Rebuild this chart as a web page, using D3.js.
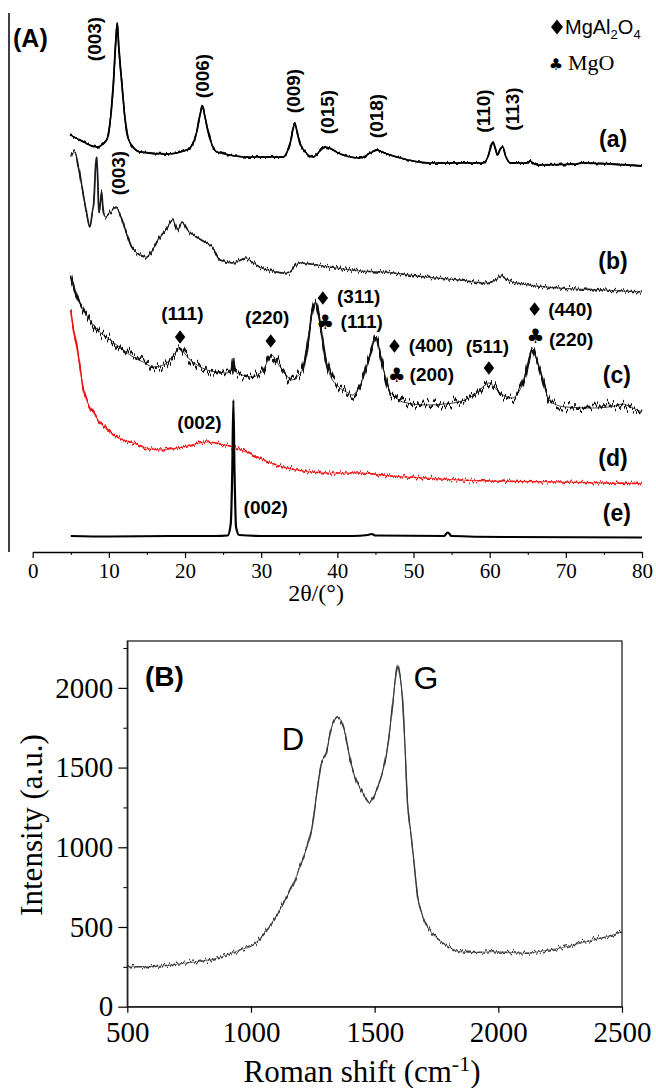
<!DOCTYPE html>
<html>
<head>
<meta charset="utf-8">
<script src="https://cdn.jsdelivr.net/npm/d3@7"></script>
<style>
  body { margin: 0; background: #fff; }
  svg { display: block; }
</style>
</head>
<body>
<div id="chart"></div>
<script>
// ---------- data (A): XRD, 2theta in degrees vs intensity (a.u., stacked) ----------
var traceA = [[4.9,417],[6.2,412],[8.4,405],[9.7,412],[10.3,440],[10.6,469],[10.9,510],[11.1,529],[11.3,505],[11.7,469],[12.1,435],[12.6,412],[14.1,400],[17.6,398],[20.2,402],[21.0,408],[21.5,419],[22.0,438],[22.3,446],[22.6,436],[23.1,419],[23.6,406],[24.2,400],[28.5,395],[32.9,395],[33.5,402],[33.8,409],[34.2,424],[34.4,429],[34.7,421],[35.1,409],[35.8,400],[36.8,395],[37.6,400],[38.4,405],[39.2,403],[40.4,398],[43.0,394],[44.3,399],[45.2,402],[46.2,399],[47.8,395],[52.2,389],[59.2,389],[59.8,396],[60.4,410],[60.8,402],[61.0,397],[61.4,403],[61.7,405],[62.1,396],[62.7,389],[65.0,389],[65.3,391],[65.7,389],[66.2,387],[71.4,388],[72.0,389],[80,386]];
var traceB = [[5.0,395],[5.55,400],[6.0,385],[6.6,359],[7.1,338],[7.5,325],[7.8,338],[8.05,352],[8.25,385],[8.4,395],[8.55,370],[8.7,339],[8.9,350],[9.05,360],[9.2,345],[9.5,335],[10.2,340],[11.0,344],[11.6,335],[12.3,319],[13.0,305],[13.7,299],[15.0,295],[15.8,303],[16.7,315],[17.5,322],[18.4,332],[19.0,322],[19.6,330],[20.3,322],[21.1,317],[22.8,309],[23.6,305],[24.6,292],[26.3,289],[27.3,292],[27.9,294],[28.8,290],[29.8,285],[31.5,281],[32.9,279],[33.8,280],[34.5,287],[35.1,289],[36.5,288],[39.0,285],[42.9,281],[46.0,280],[51.6,275],[56.0,272],[59.5,269],[60.8,272],[61.5,276],[62.2,273],[63.0,270],[69.1,264],[75.0,262],[80,260]];
var traceC = [[5.0,277],[5.4,265],[5.8,255],[6.6,243],[7.5,232],[8.8,220],[10.2,212],[11.7,203],[13.2,195],[14.5,190],[15.8,185],[16.8,186],[17.6,189],[18.6,198],[19.35,204],[20.0,198],[20.7,192],[21.8,186],[22.9,182],[24.2,180],[25.5,179],[26.1,183],[26.3,194],[26.5,182],[26.8,179],[28.0,176],[28.9,175],[29.7,178],[30.3,182],[30.9,192],[31.4,197],[31.9,192],[32.5,185],[33.3,177],[34.0,172],[34.8,176],[35.4,182],[35.8,196],[36.2,215],[36.7,240],[37.1,250],[37.5,238],[38.0,215],[38.5,192],[39.0,178],[40.2,165],[41.2,160],[42.0,157],[42.7,163],[43.3,172],[43.9,186],[44.4,199],[44.8,210],[45.1,214],[45.4,206],[45.7,195],[46.2,178],[46.8,162],[47.6,155],[48.6,150],[51.6,147],[55.2,149],[57.3,154],[58.3,159],[59.1,165],[59.9,169],[60.5,166],[61.2,160],[62.0,156],[63.0,154],[63.8,160],[64.5,172],[65.1,192],[65.6,204],[66.0,196],[66.5,185],[67.2,165],[67.8,152],[68.8,147],[70.0,145],[73.5,144],[76.5,146],[77.5,148],[78.5,145],[80,140]];
var traceD = [[5.0,242],[5.3,225],[5.8,205],[6.2,185],[6.6,165],[7.2,150],[7.9,140],[8.8,130],[10.2,119],[11.6,113],[13.2,109],[15.0,104],[16.7,102],[18.2,103],[19.7,105],[21.3,108],[22.9,110],[24.6,108],[26.3,105],[28.0,100],[29.8,94],[31.3,89],[32.9,85],[35.5,81],[39.0,79],[42.9,79],[47.0,76],[51.6,74],[56.0,72],[60.4,71],[64.0,70.5],[69.1,70],[75.0,69],[80,68.5]];
var traceE = [[5.0,16],[10.0,15.5],[18.0,16],[24.0,16],[25.6,16.5],[26.0,28],[26.2,80],[26.35,152],[26.5,80],[26.7,25],[27.1,17],[30.0,16],[42.0,16],[44.0,17],[44.5,18],[45.0,16.5],[54.0,16],[54.5,19.5],[55.0,16],[62.0,15],[80,14.5]];

var ticksA = [0, 10, 20, 30, 40, 50, 60, 70, 80];
var minorA = [5, 15, 25, 35, 45, 55, 65, 75];

// vertical hkl labels of trace (a)/(b): [text, 2theta, a.u.]
var hklVertical = [["(003)",8.05,513],["(006)",22.23,476],["(009)",34.18,461],["(015)",38.65,440],["(018)",45.2,436],["(110)",59.13,441],["(113)",62.94,443],["(003)",11.2,379]];
// spinel / MgO labels of trace (c)
var hklSpinel = [["(111)",19.65,239],["(220)",30.8,234.5],["(311)",42.8,256],["(111)",43.2,231],["(400)",52.3,207],["(200)",52.4,178],["(511)",59.7,206],["(440)",70.6,243],["(220)",70.7,213]];
var diamonds = [[19.35,215],[31.25,211],[38.1,254],[47.5,206],[59.9,184],[65.9,243]];
var clubs = [[38.4,230],[47.8,177],[66.0,216]];
var graphiteLabels = [["(002)",21.9,130],["(002)",30.6,45]];
var sampleLabels = [["(a)",76.2,413],["(b)",76.2,291],["(c)",76.7,177],["(d)",76.2,94],["(e)",76.7,39]];

// ---------- data (B): Raman ----------
var raman = [[500,251],[592,251],[726,272],[861,304],[955,356],[1009,387],[1063,481],[1117,607],[1171,774],[1218,962],[1245,1109],[1265,1330],[1285,1530],[1303,1585],[1323,1736],[1338,1800],[1350,1819],[1365,1790],[1377,1736],[1395,1600],[1411,1485],[1428,1410],[1445,1360],[1462,1310],[1478,1276],[1495,1315],[1512,1380],[1530,1460],[1546,1568],[1560,1720],[1573,1903],[1584,2060],[1593,2144],[1603,2070],[1613,1924],[1623,1620],[1633,1276],[1647,1080],[1660,900],[1674,690],[1690,590],[1707,523],[1730,465],[1761,418],[1800,375],[1842,345],[1900,340],[1977,345],[2050,340],[2112,335],[2180,350],[2246,366],[2310,390],[2381,418],[2440,440],[2500,470]];
var ticksBx = [500, 1000, 1500, 2000, 2500];
var ticksBy = [0, 500, 1000, 1500, 2000];
var minorBy = [250, 750, 1250, 1750, 2250];

var SERIF = "'Liberation Serif', 'Times New Roman', serif";
var SANS = "'Liberation Sans', Arial, sans-serif";

var W = 656, H = 1088;
var svg = d3.select("#chart").append("svg").attr("width", W).attr("height", H);

// column-wise vertical jitter, used to give the measured spectra their noisy look
var defs = svg.append("defs");
function jitter(id, scale, seed) {
  var f = defs.append("filter").attr("id", id)
    .attr("filterUnits", "userSpaceOnUse").attr("x", 0).attr("y", 0)
    .attr("width", W).attr("height", H)
    .attr("color-interpolation-filters", "sRGB");
  f.append("feTurbulence").attr("type", "fractalNoise")
    .attr("baseFrequency", "0.55 0.004").attr("numOctaves", 1).attr("seed", seed).attr("result", "t");
  f.append("feColorMatrix").attr("in", "t").attr("type", "matrix")
    .attr("values", "0 0 0 0 0.5  0 1 0 0 0  0 0 0 0 0  0 0 0 0 1").attr("result", "m");
  f.append("feDisplacementMap").attr("in", "SourceGraphic").attr("in2", "m")
    .attr("scale", scale).attr("xChannelSelector", "R").attr("yChannelSelector", "G");
}
jitter("jitA", 4, 2);
jitter("jitB", 11, 4);
jitter("jitC", 22, 7);
jitter("jitD", 11, 9);
jitter("jitR", 12, 5);

function styleText(sel, family, size, weight) {
  sel.style("font-family", family).style("font-size", size + "px")
    .style("font-weight", weight || "normal").attr("fill", "#000");
}

// ================= panel A =================
var xA = d3.scaleLinear().domain([0, 80]).range([32.7, 642]);
var yA = d3.scaleLinear().domain([0, 540]).range([552, 12]);
var gA = svg.append("g");

gA.append("line").attr("x1", 9).attr("x2", 9).attr("y1", 13).attr("y2", 552)
  .attr("stroke", "#000").attr("stroke-width", 1.5);

var axA = gA.append("g").attr("transform", "translate(0," + yA(0) + ")")
  .call(d3.axisBottom(xA).tickValues(ticksA).tickSize(6).tickPadding(5).tickSizeOuter(0));
axA.select(".domain").attr("stroke-width", 1.3);
axA.selectAll(".tick line").attr("stroke-width", 1.2);
styleText(axA.selectAll(".tick text"), SERIF, 21);
gA.append("g").attr("transform", "translate(0," + yA(0) + ")")
  .call(d3.axisBottom(xA).tickValues(minorA).tickSize(3).tickFormat(""))
  .call(function(g) { g.select(".domain").remove(); });

styleText(gA.append("text").attr("x", 316).attr("y", 601)
  .attr("text-anchor", "middle").text("2θ/(°)"), SERIF, 24);

var lineA = d3.line().x(function(d) { return xA(d[0]); }).y(function(d) { return yA(d[1]); })
  .curve(d3.curveMonotoneX);

function spectrum(g, line, data, color, w, filt, fw) {
  g.append("path").attr("d", line(data)).attr("fill", "none").attr("stroke", color)
    .attr("stroke-width", fw).attr("filter", "url(#" + filt + ")");
  g.append("path").attr("d", line(data)).attr("fill", "none").attr("stroke", color)
    .attr("stroke-width", w).attr("stroke-linejoin", "round");
}
spectrum(gA, lineA, traceA, "#000", 1.4, "jitA", 1.8);
spectrum(gA, lineA, traceB, "#1a1a1a", 0.8, "jitB", 1.7);
spectrum(gA, lineA, traceC, "#111", 0.8, "jitC", 2.4);
spectrum(gA, lineA, traceD, "#ee1111", 0.8, "jitD", 1.7);
gA.append("path").attr("d", lineA(traceE)).attr("fill", "none").attr("stroke", "#000")
  .attr("stroke-width", 2.2);

styleText(gA.selectAll(".hklv").data(hklVertical).enter().append("text")
  .attr("text-anchor", "middle").attr("dominant-baseline", "central")
  .attr("transform", function(d) { return "translate(" + xA(d[1]) + "," + yA(d[2]) + ") rotate(-90)"; })
  .text(function(d) { return d[0]; }), SANS, 19, "bold");

styleText(gA.selectAll(".hkls").data(hklSpinel.concat(graphiteLabels)).enter().append("text")
  .attr("text-anchor", "middle").attr("dominant-baseline", "central")
  .attr("x", function(d) { return xA(d[1]); }).attr("y", function(d) { return yA(d[2]); })
  .text(function(d) { return d[0]; }), SANS, 19, "bold");

styleText(gA.selectAll(".smp").data(sampleLabels).enter().append("text")
  .attr("text-anchor", "middle").attr("dominant-baseline", "central")
  .attr("x", function(d) { return xA(d[1]); }).attr("y", function(d) { return yA(d[2]); })
  .text(function(d) { return d[0]; }), SANS, 23, "bold");

var diamondPath = "M0,-6.8L5.2,0L0,6.8L-5.2,0Z";
gA.selectAll(".dia").data(diamonds).enter().append("path").attr("d", diamondPath)
  .attr("transform", function(d) { return "translate(" + xA(d[0]) + "," + yA(d[1]) + ")"; });
styleText(gA.selectAll(".club").data(clubs).enter().append("text")
  .attr("text-anchor", "middle").attr("dominant-baseline", "central")
  .attr("x", function(d) { return xA(d[0]); }).attr("y", function(d) { return yA(d[1]); })
  .text("♣"), "'DejaVu Sans'", 20);

styleText(gA.append("text").attr("x", 13).attr("y", 47).text("(A)"), SANS, 25, "bold");

// legend
gA.append("path").attr("d", "M0,-7.5L6,0L0,7.5L-6,0Z").attr("transform", "translate(557,27)");
var lg = gA.append("text").attr("x", 565).attr("y", 34);
styleText(lg, SANS, 20);
lg.append("tspan").text("MgAl");
lg.append("tspan").text("2").style("font-size", "13px").attr("dy", 5);
lg.append("tspan").text("O").attr("dy", -5);
lg.append("tspan").text("4").style("font-size", "13px").attr("dy", 5);
styleText(gA.append("text").attr("x", 556).attr("y", 64)
  .attr("text-anchor", "middle").attr("dominant-baseline", "central").text("♣"), "'DejaVu Sans'", 16);
styleText(gA.append("text").attr("x", 568).attr("y", 70).text("MgO"), SERIF, 22);

// ================= panel B =================
var xB = d3.scaleLinear().domain([500, 2500]).range([127.3, 622]);
var yB = d3.scaleLinear().domain([0, 2294]).range([1006.7, 641]);
var gB = svg.append("g");

gB.append("rect").attr("x", xB(500)).attr("y", yB(2294))
  .attr("width", xB(2500) - xB(500)).attr("height", yB(0) - yB(2294))
  .attr("fill", "none").attr("stroke", "#222").attr("stroke-width", 1.3);

var axBx = gB.append("g").attr("transform", "translate(0," + yB(0) + ")")
  .call(d3.axisBottom(xB).tickValues(ticksBx).tickFormat(d3.format("d"))
    .tickSize(6).tickPadding(9).tickSizeOuter(0));
var axBy = gB.append("g").attr("transform", "translate(" + xB(500) + ",0)")
  .call(d3.axisLeft(yB).tickValues(ticksBy).tickFormat(d3.format("d"))
    .tickSize(9).tickPadding(5).tickSizeOuter(0));
gB.append("g").attr("transform", "translate(" + xB(500) + ",0)")
  .call(d3.axisLeft(yB).tickValues(minorBy).tickSize(4).tickFormat(""))
  .call(function(g) { g.select(".domain").remove(); });
[axBx, axBy].forEach(function(a) {
  a.select(".domain").attr("stroke", "#222").attr("stroke-width", 1.3);
  a.selectAll(".tick line").attr("stroke-width", 1.2);
  styleText(a.selectAll(".tick text"), SERIF, 29);
});

var lineB = d3.line().x(function(d) { return xB(d[0]); }).y(function(d) { return yB(d[1]); })
  .curve(d3.curveMonotoneX);
spectrum(gB, lineB, raman, "#3a3a3a", 0.7, "jitR", 1.4);

styleText(gB.append("text").attr("x", 145).attr("y", 686).text("(B)"), SANS, 28, "bold");
styleText(gB.append("text").attr("x", 293).attr("y", 750).attr("text-anchor", "middle").text("D"), SANS, 31);
styleText(gB.append("text").attr("x", 426).attr("y", 689).attr("text-anchor", "middle").text("G"), SANS, 32);

var xl = gB.append("text").attr("x", 362).attr("y", 1082).attr("text-anchor", "middle");
styleText(xl, SERIF, 31);
xl.append("tspan").text("Roman shift (cm");
xl.append("tspan").text("-1").style("font-size", "22px").attr("dy", -11);
xl.append("tspan").text(")").attr("dy", 11);

styleText(gB.append("text").attr("text-anchor", "middle")
  .attr("transform", "translate(42,825) rotate(-90)").text("Intensity (a.u.)"), SERIF, 31);
</script>
</body>
</html>
